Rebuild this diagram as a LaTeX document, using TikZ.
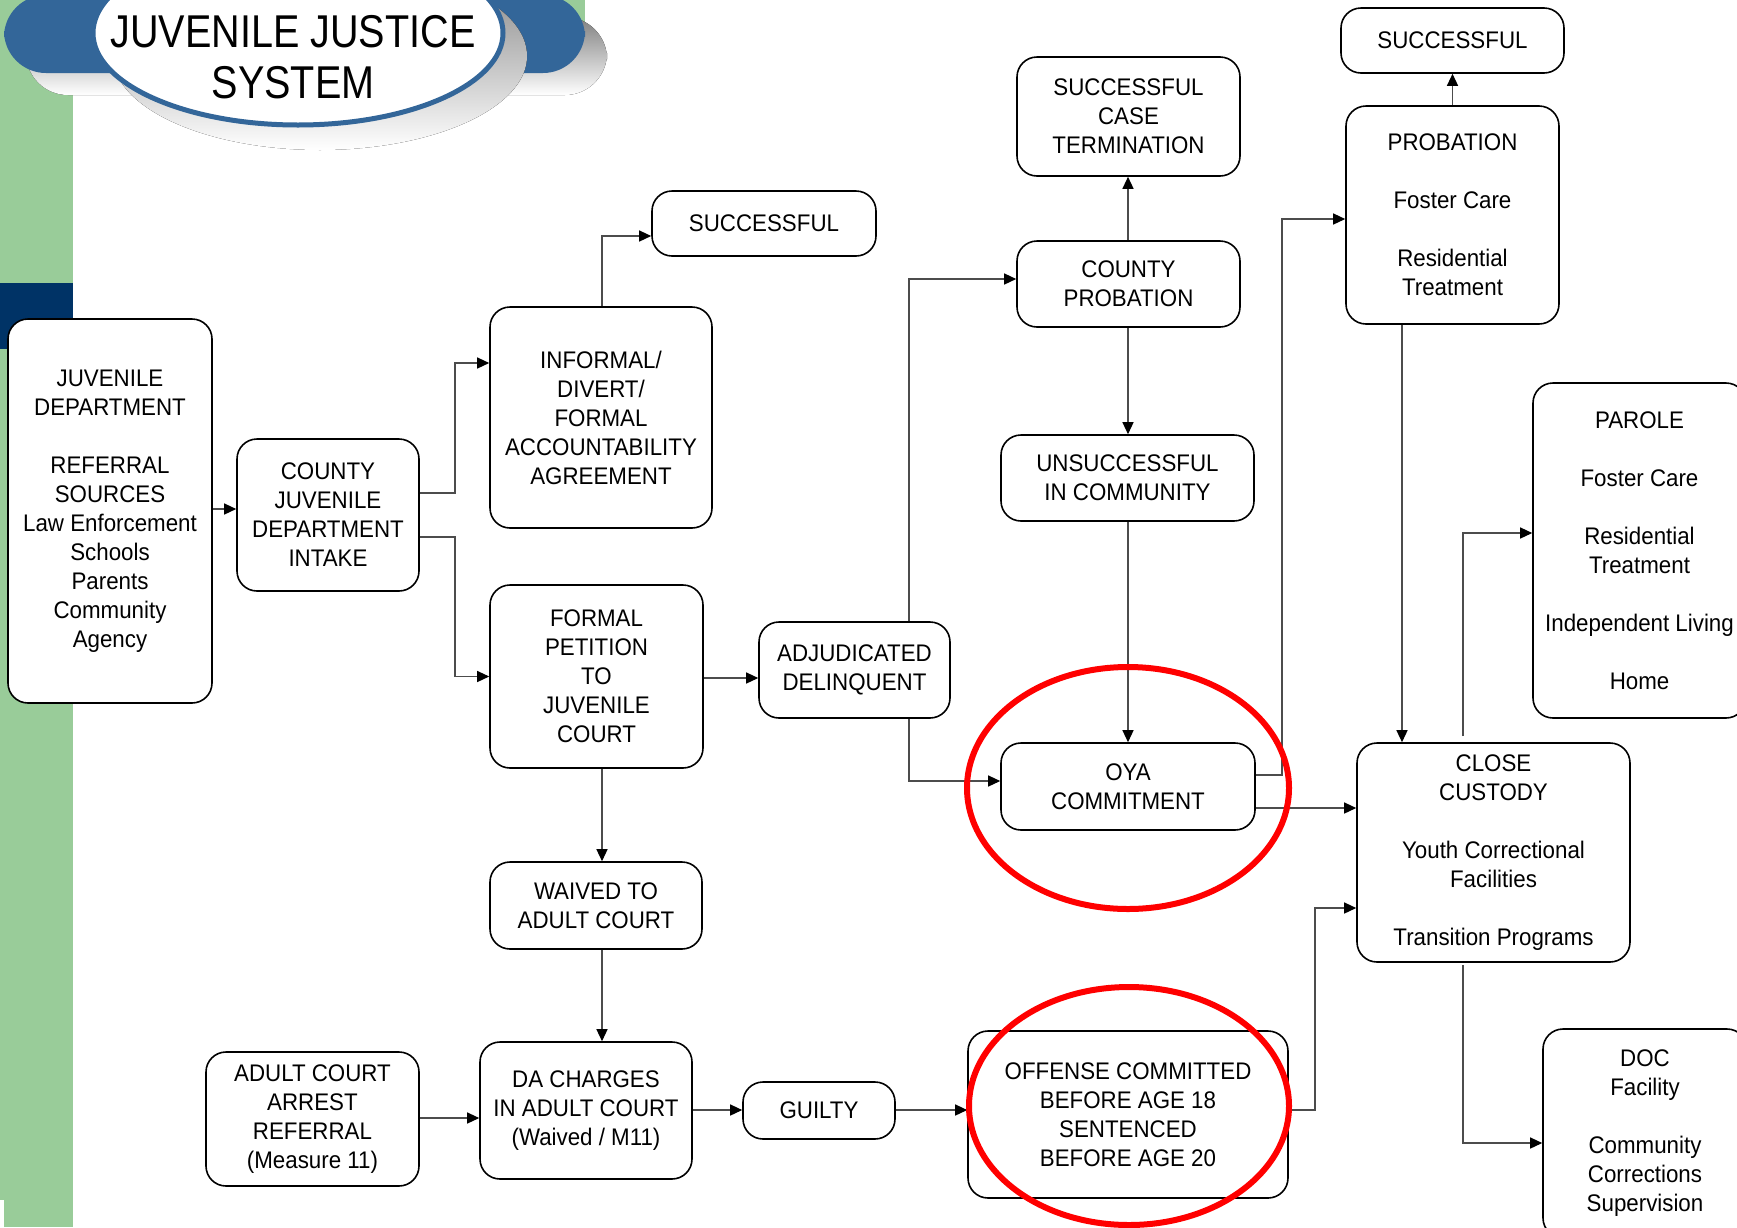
\documentclass[tikz,border=0pt]{standalone}
\usepackage{fontspec}
\setmainfont{Liberation Sans}[FakeStretch=0.93]
\newfontfamily\titlefont{Liberation Sans}[FakeStretch=0.86]
\usetikzlibrary{arrows.meta}
\definecolor{bandgreen}{HTML}{99CC99}
\definecolor{navyblk}{HTML}{003366}
\definecolor{steel}{HTML}{336699}
\definecolor{shade}{HTML}{CFCFCF}
\definecolor{redring}{HTML}{FF0000}
\begin{document}
\begin{tikzpicture}[x=1pt,y=-1pt,
  box/.style={draw=black, line width=1.6pt, rounded corners=20pt, fill=white, align=center, inner sep=0pt, font=\fontsize{24}{29}\selectfont},
  conn/.style={draw=black!70, line width=1.3pt, -{Triangle[length=12pt,width=11pt,color=black]}},
  ring/.style={draw=redring, line width=6pt},
  titletext/.style={font=\titlefont\fontsize{46}{51}\selectfont, anchor=base}]
\useasboundingbox (0,0) rectangle (1737,1227);
\clip (0,0) rectangle (1737,1227);
% background bands
\fill[white] (0,0) rectangle (1737,1227);
\fill[bandgreen] (0,0) rectangle (73,1227);
\fill[bandgreen] (0,0) rectangle (585,30);
\fill[navyblk] (0,283) rectangle (73,349);
\fill[white] (0,1200) rectangle (4,1227);
% title graphic
\fill[shade, rounded corners=42pt] (26,17) rectangle (607,95);
\fill[steel, rounded corners=42pt] (4,-5) rectangle (585,73);
\fill[shade] (320,56) ellipse [x radius=207pt, y radius=94pt];
\draw[steel, line width=5pt, fill=white] (298,33) ellipse [x radius=205pt, y radius=92pt];
\node[titletext] (title1) at (293,47) {JUVENILE JUSTICE};
\node[titletext] (title2) at (293,98) {SYSTEM};
% boxes
\node[box, minimum width=204pt, minimum height=384pt] (jd) at (110,511) {JUVENILE\\DEPARTMENT\\[29pt]REFERRAL\\SOURCES\\Law Enforcement\\Schools\\Parents\\Community\\Agency};
\node[box, minimum width=182pt, minimum height=152pt] (intake) at (328,515) {COUNTY\\JUVENILE\\DEPARTMENT\\INTAKE};
\node[box, minimum width=222pt, minimum height=221pt] (informal) at (601,417.5) {INFORMAL/\\DIVERT/\\FORMAL\\ACCOUNTABILITY\\AGREEMENT};
\node[box, minimum width=224pt, minimum height=65pt] (succm) at (764,223.5) {SUCCESSFUL};
\node[box, minimum width=213pt, minimum height=183pt] (formal) at (596.5,676.5) {FORMAL\\PETITION\\TO\\JUVENILE\\COURT};
\node[box, minimum width=191pt, minimum height=96pt] (adj) at (854.5,670) {ADJUDICATED\\DELINQUENT};
\node[box, minimum width=212pt, minimum height=87pt] (waived) at (596,905.5) {WAIVED TO\\ADULT COURT};
\node[box, minimum width=212pt, minimum height=137pt] (da) at (586,1110.5) {DA CHARGES\\IN ADULT COURT\\(Waived / M11)};
\node[box, minimum width=213pt, minimum height=134pt] (acar) at (312.5,1119) {ADULT COURT\\ARREST\\REFERRAL\\(Measure 11)};
\node[box, minimum width=152pt, minimum height=57pt] (guilty) at (819,1110.5) {GUILTY};
\node[box, minimum width=320pt, minimum height=167pt] (offense) at (1128,1114.5) {OFFENSE COMMITTED\\BEFORE AGE 18\\SENTENCED\\BEFORE AGE 20};
\node[box, minimum width=223pt, minimum height=119pt] (sct) at (1128.5,116.5) {SUCCESSFUL\\CASE\\TERMINATION};
\node[box, minimum width=223pt, minimum height=86pt] (cp) at (1128.5,284) {COUNTY\\PROBATION};
\node[box, minimum width=253pt, minimum height=86pt] (unsucc) at (1127.5,478) {UNSUCCESSFUL\\IN COMMUNITY};
\node[box, minimum width=254pt, minimum height=87pt] (oya) at (1128,786.5) {OYA\\COMMITMENT};
\node[box, minimum width=223pt, minimum height=65pt] (succtr) at (1452.5,40.5) {SUCCESSFUL};
\node[box, minimum width=213pt, minimum height=218pt] (prob) at (1452.5,215) {PROBATION\\[29pt]Foster Care\\[29pt]Residential\\Treatment};
\node[box, minimum width=213pt, minimum height=335pt] (parole) at (1639.5,550.5) {PAROLE\\[29pt]Foster Care\\[29pt]Residential\\Treatment\\[29pt]Independent Living\\[29pt]Home};
\node[box, minimum width=273pt, minimum height=219pt] (cc) at (1493.5,852.5) {CLOSE\\CUSTODY\\[29pt]Youth Correctional\\Facilities\\[29pt]Transition Programs};
\node[box, minimum width=204pt, minimum height=209pt] (doc) at (1645,1133.5) {DOC\\Facility\\[29pt]Community\\Corrections\\Supervision};
% connector coordinates
\coordinate (k1) at (0,509);
\coordinate (k2a) at (455,493);
\coordinate (k2b) at (455,363);
\coordinate (k3a) at (455,537);
\coordinate (k4) at (602,236);
\coordinate (k5) at (0,678);
\coordinate (k6) at (602,0);
\coordinate (k8) at (0,1118);
\coordinate (k9) at (0,1110);
\coordinate (k11) at (909,279);
\coordinate (k12) at (909,781);
\coordinate (k13) at (1128,0);
\coordinate (k16a) at (1282,775);
\coordinate (k16b) at (1282,219);
\coordinate (k17) at (0,808);
\coordinate (k19) at (1402,0);
\coordinate (k20a) at (1463,736);
\coordinate (k20b) at (1463,533);
\coordinate (k21a) at (1463,965);
\coordinate (k21b) at (1463,1143);
\coordinate (k22a) at (1315,1110);
\coordinate (k22b) at (1315,908);
% connectors
\draw[conn] (k1 -| jd.east) -- (k1 -| intake.west);
\draw[conn] (k2a -| intake.east) -- (k2a) -- (k2b) -- (k2b -| informal.west);
\draw[conn] (k3a -| intake.east) -- (k3a) |- (formal.west);
\draw[conn] (k4 |- informal.north) -- (k4) -- (k4 -| succm.west);
\draw[conn] (k5 -| formal.east) -- (k5 -| adj.west);
\draw[conn] (k6 |- formal.south) -- (k6 |- waived.north);
\draw[conn] (k6 |- waived.south) -- (k6 |- da.north);
\draw[conn] (k8 -| acar.east) -- (k8 -| da.west);
\draw[conn] (k9 -| da.east) -- (k9 -| guilty.west);
\draw[conn] (k9 -| guilty.east) -- (k9 -| offense.west);
\draw[conn] (k11 |- adj.north) -- (k11) -- (k11 -| cp.west);
\draw[conn] (k12 |- adj.south) -- (k12) -- (k12 -| oya.west);
\draw[conn] (k13 |- cp.north) -- (k13 |- sct.south);
\draw[conn] (k13 |- cp.south) -- (k13 |- unsucc.north);
\draw[conn] (k13 |- unsucc.south) -- (k13 |- oya.north);
\draw[conn] (k16a -| oya.east) -- (k16a) -- (k16b) -- (k16b -| prob.west);
\draw[conn] (k17 -| oya.east) -- (k17 -| cc.west);
\draw[conn] (prob.north) -- (succtr.south);
\draw[conn] (k19 |- prob.south) -- (k19 |- cc.north);
\draw[conn] (k20a) -- (k20b) -- (k20b -| parole.west);
\draw[conn] (k21a) -- (k21b) -- (k21b -| doc.west);
\draw[conn] (k22a -| offense.east) -- (k22a) -- (k22b) -- (k22b -| cc.west);
% red highlight rings
\draw[ring] (oya.center) ++(0,1.5) ellipse [x radius=161pt, y radius=121pt];
\draw[ring] (offense.center) ++(1,-8.5) ellipse [x radius=160pt, y radius=119pt];
\end{tikzpicture}
\end{document}
